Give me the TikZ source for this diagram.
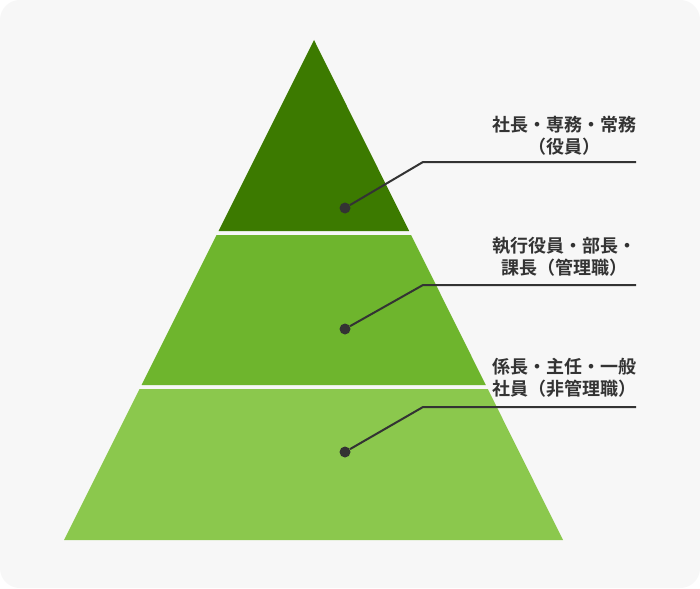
\documentclass[tikz,border=0pt]{standalone}
\usepackage{fontspec}
\newfontfamily\jpfont{Noto Sans CJK JP}[BoldFont={Noto Sans CJK JP Bold}]
\usepackage{tikz}
\usetikzlibrary{calc}
\usepackage{xcolor}
\definecolor{bggray}{HTML}{F7F7F7}
\definecolor{topgreen}{RGB}{60,122,0}
\definecolor{midgreen}{RGB}{110,181,45}
\definecolor{lowgreen}{RGB}{139,200,77}
\definecolor{textgray}{HTML}{333333}

\begin{document}
\begin{tikzpicture}[x=1pt,y=-1pt]
    \tikzstyle{dot node}=[circle,fill=textgray,inner sep=0,minimum size=11]
    \tikzstyle{leader}=[draw=textgray,line width=2]
    \tikzstyle{rank label}=[font={\jpfont\bfseries\fontsize{18}{22}\selectfont},text=textgray,align=center]

    % background
    \fill[white] (0,0) rectangle (700,588);
    \fill[bggray,rounded corners=20] (0,0) rectangle (700,588);
    \useasboundingbox (0,0) rectangle (700,588);

    % pyramid corners
    \coordinate (apex) at (314,40);
    \coordinate (bl) at (64,540);
    \coordinate (br) at (563,540);

    % three layers
    \fill[topgreen] (apex) -- ($(apex)!.382!(br)$) -- ($(apex)!.382!(bl)$) -- cycle;
    \fill[midgreen] ($(apex)!.39!(bl)$) -- ($(apex)!.39!(br)$)
        -- ($(apex)!.69!(br)$) -- ($(apex)!.69!(bl)$) -- cycle;
    \fill[lowgreen] ($(apex)!.698!(bl)$) -- ($(apex)!.698!(br)$)
        -- (br) -- (bl) -- cycle;

    % leaders
    \node(d1)[dot node] at (345,208) {};
    \node(d2)[dot node] at (345,329) {};
    \node(d3)[dot node] at (345,452) {};
    \coordinate (k1) at (423,162);
    \coordinate (k2) at (423,285);
    \coordinate (k3) at (423,407);
    \coordinate (e1) at (636,162);
    \coordinate (e2) at (636,285);
    \coordinate (e3) at (636,407);
    \draw[leader] (d1) -- (k1) -- (e1);
    \draw[leader] (d2) -- (k2) -- (e2);
    \draw[leader] (d3) -- (k3) -- (e3);

    % ranks
    \node(r1)[rank label] at (564,136) {社長・専務・常務\\（役員）};
    \node(r2)[rank label] at (564,257) {執行役員・部長・\\課長（管理職）};
    \node(r3)[rank label] at (564,378) {係長・主任・一般\\社員（非管理職）};
\end{tikzpicture}
\end{document}
